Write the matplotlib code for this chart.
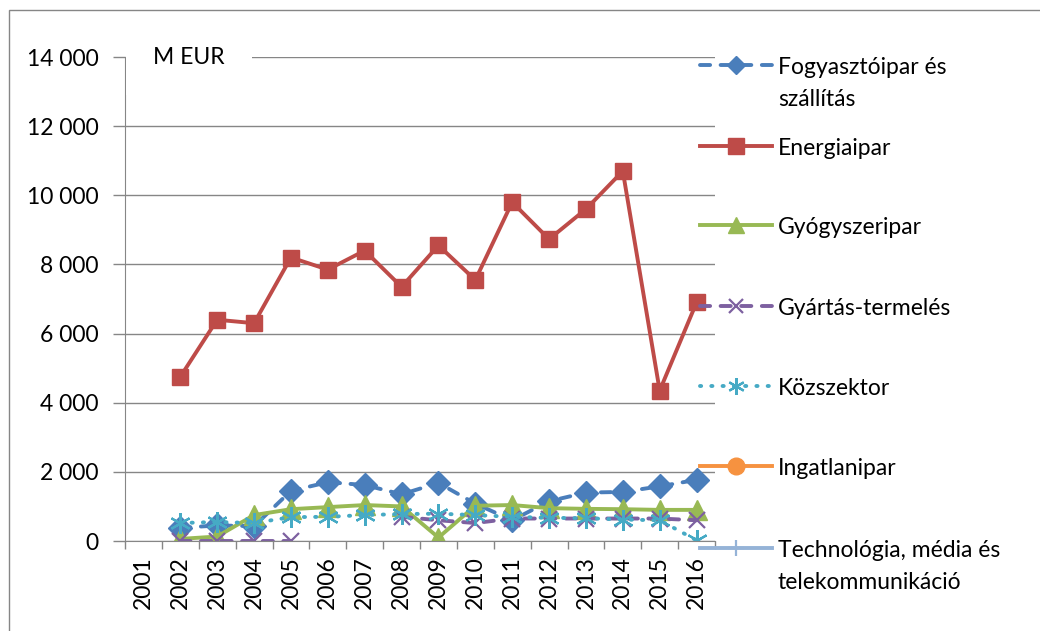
import numpy as np
import matplotlib
matplotlib.use('Agg')
import matplotlib.pyplot as plt
from matplotlib.lines import Line2D
from matplotlib.patches import Rectangle

plt.rcParams['font.family'] = ['Lato', 'DejaVu Sans']
plt.rcParams['font.size'] = 16.5

nan = np.nan
years = ['2001', '2002', '2003', '2004', '2005', '2006', '2007', '2008',
         '2009', '2010', '2011', '2012', '2013', '2014', '2015', '2016']
yticks = [0, 2000, 4000, 6000, 8000, 10000, 12000, 14000]
ytick_labels = ['0', '2 000', '4 000', '6 000', '8 000', '10 000', '12 000', '14 000']

# M EUR
fogyasztoipar = [nan, 380, 450, 430, 1450, 1700, 1620, 1350, 1680, 1080, 600, 1150, 1400, 1420, 1580, 1770]
energiaipar = [nan, 4750, 6400, 6300, 8200, 7850, 8400, 7350, 8550, 7550, 9800, 8730, 9600, 10700, 4350, 6900]
gyogyszeripar = [nan, 60, 130, 750, 920, 980, 1040, 1000, 100, 1020, 1040, 950, 930, 920, 900, 900]
gyartas = [nan, 0, 0, 0, 0, nan, nan, 700, 600, 520, 650, 650, 650, 650, 650, 600]
kozszektor = [nan, 520, 550, 520, 690, 700, 750, 780, 790, 750, 700, 670, 660, 620, 600, 20]
ingatlanipar = [nan] * len(years)
technologia = [nan] * len(years)

labels = ['Fogyasztóipar és\nszállítás', 'Energiaipar', 'Gyógyszeripar', 'Gyártás-termelés',
          'Közszektor', 'Ingatlanipar', 'Technológia, média és\ntelekommunikáció']
series = [fogyasztoipar, energiaipar, gyogyszeripar, gyartas, kozszektor, ingatlanipar, technologia]

asterisk = (6, 2, 0)
styles = [
    dict(color='#4A7EBB', marker='D', ms=12, dashes=(2.6, 2.7), dash_capstyle='round'),
    dict(color='#BE4B48', marker='s', ms=12, ls='-'),
    dict(color='#98B954', marker='^', ms=15, ls='-'),
    dict(color='#7D60A0', marker='x', ms=12, mew=1.6, dashes=(2.6, 2.7), dash_capstyle='round'),
    dict(color='#46AAC5', marker=asterisk, ms=15, mew=1.6, dashes=(0.3, 2.6), dash_capstyle='round'),
    dict(color='#F69240', marker='o', ms=12, ls='-'),
    dict(color='#95B3D7', marker='+', ms=12, mew=1.6, ls='-'),
]
leg_ms = [9, 12, 11, 10, 12, 12, 12]

W, H = 1040, 631
fig = plt.figure(figsize=(W / 100, H / 100), dpi=100)
ax = fig.add_axes([125 / W, 1 - 541 / H, 590 / W, 484 / H])

x = np.arange(len(years))
for vals, st in zip(series, styles):
    ax.plot(x, vals, lw=2.8, **st)

grey = '#868686'
ax.set_xlim(-0.5, len(years) - 0.5)
ax.set_ylim(0, 14000)
ax.set_yticks(yticks)
ax.set_yticklabels(ytick_labels)
ax.set_xticks(x)
ax.set_xticklabels(years, rotation=90)
ax.set_xticks(np.arange(-0.5, len(years)), minor=True)
ax.tick_params(axis='x', which='major', length=0, pad=11)
ax.tick_params(axis='x', which='minor', length=6, color=grey, width=1)
ax.tick_params(axis='y', length=9, color=grey, width=1, pad=10)
ax.yaxis.grid(True, color=grey, lw=1)
ax.set_axisbelow(True)
for s in ['top', 'right']:
    ax.spines[s].set_visible(False)
for s in ['left', 'bottom']:
    ax.spines[s].set_color(grey)

ax.text((153 - 125) / 590, 1.0, 'M EUR', transform=ax.transAxes,
        ha='left', va='center', zorder=5,
        bbox=dict(boxstyle='square,pad=1.2', fc='white', ec='none'))

# jelmagyarázat kézzel, hogy a jel az első sorhoz igazodjon
leg_y = [65, 146, 225, 306, 386, 466, 548]
for lab, st, yy, ms in zip(labels, styles, leg_y, leg_ms):
    yf = 1 - yy / H
    kw = {k: v for k, v in st.items() if k != 'ms'}
    ln = Line2D([700 / W, 736 / W, 772 / W], [yf, yf, yf], transform=fig.transFigure,
                lw=2.8, markevery=[1], ms=ms, **kw)
    fig.add_artist(ln)
    fig.text(778 / W, yf + 8 / H, lab, ha='left', va='top', linespacing=1.65)

fig.add_artist(Rectangle((9 / W, -0.1), 1.2, 1 - 10 / H + 0.1, transform=fig.transFigure,
                         fill=False, ec=grey, lw=1))

fig.savefig('out.png', dpi=100)
